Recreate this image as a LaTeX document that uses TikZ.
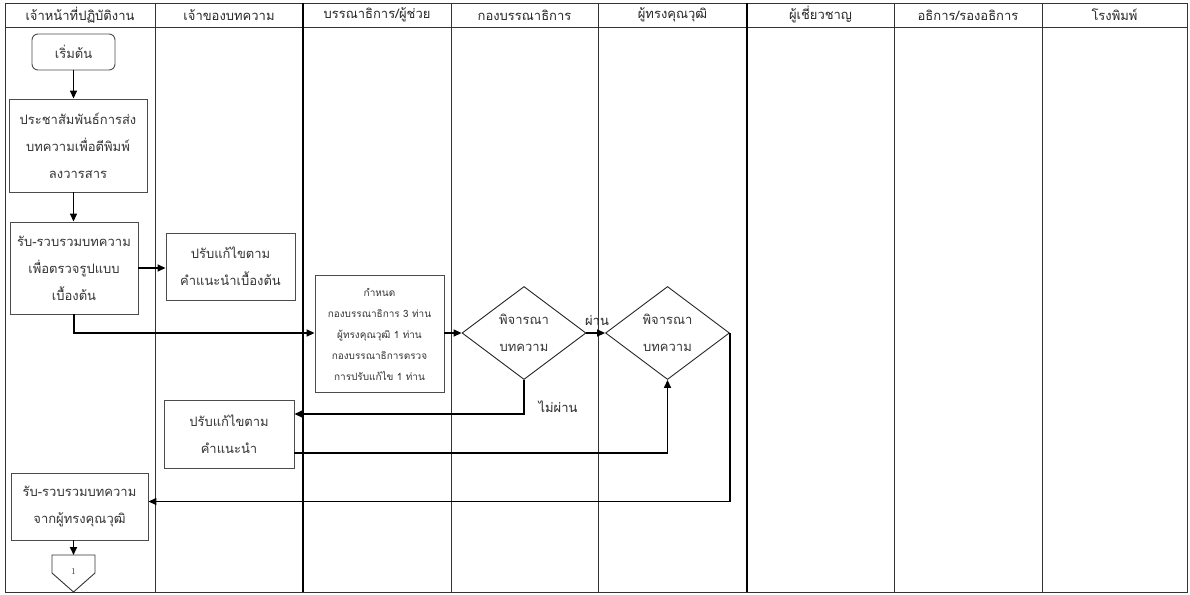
\documentclass[tikz,border=0pt]{standalone}
\usepackage{fontspec}
\newfontfamily\thai[Script=Thai]{Loma}
\usetikzlibrary{shapes.geometric,arrows.meta,calc}
\begin{document}
\begin{tikzpicture}[x=1pt,y=-1pt,
  hdr/.style={font=\thai\fontsize{13}{15}\selectfont, text=black!85, anchor=center},
  box/.style={draw=black!70, line width=0.9pt, align=center, inner sep=0pt,
    font=\thai\fontsize{13}{27}\selectfont, text=black!80},
  smallbox/.style={box, font=\thai\fontsize{10}{21}\selectfont},
  dia/.style={draw=black!85, line width=0.9pt, diamond, inner sep=0pt, align=center,
    minimum width=124pt, minimum height=93pt, font=\thai\fontsize{13}{27}\selectfont, text=black!80},
  conn/.style={line width=1.6pt, draw=black, -{Triangle[length=8pt,width=7pt]}},
  lane/.style={line width=0.8pt, draw=black!80},
  lanethick/.style={line width=1.5pt, draw=black},
  lbl/.style={font=\thai\fontsize{13}{15}\selectfont, text=black!85}
]
\useasboundingbox (0,0) rectangle (1190,594);
% table
\draw[lane] (5,3) rectangle (1187,592);
\draw[lane] (5,27) -- (1187,27);
\foreach \x in {155,451,598,894,1042} \draw[lane] (\x,3) -- (\x,592);
\foreach \x in {303,747} \draw[lanethick] (\x,3) -- (\x,592);
% headers
\node[hdr] (h1) at (80,15) {เจ้าหน้าที่ปฏิบัติงาน};
\node[hdr] (h2) at (229,15) {เจ้าของบทความ};
\node[hdr] (h3) at (377,15) {บรรณาธิการ/ผู้ช่วย};
\node[hdr] (h4) at (524.5,15) {กองบรรณาธิการ};
\node[hdr] (h5) at (672.5,15) {ผู้ทรงคุณวุฒิ};
\node[hdr] (h6) at (820.5,15) {ผู้เชี่ยวชาญ};
\node[hdr] (h7) at (968,15) {อธิการ/รองอธิการ};
\node[hdr] (h8) at (1114.5,15) {โรงพิมพ์};
% nodes
\node[box, rounded corners=6pt, minimum width=83pt, minimum height=36pt] (start) at (73.5,52) {เริ่มต้น};
\node[box, minimum width=138pt, minimum height=93pt] (pr) at (78,145.5) {ประชาสัมพันธ์การส่ง\\บทความเพื่อตีพิมพ์\\ลงวารสาร};
\node[box, minimum width=128pt, minimum height=92pt] (recv) at (74,268) {รับ-รวบรวมบทความ\\เพื่อตรวจรูปแบบ\\เบื้องต้น};
\node[box, minimum width=129pt, minimum height=67pt] (fix1) at (230.5,266.5) {ปรับแก้ไขตาม\\คำแนะนำเบื้องต้น};
\node[smallbox, minimum width=129pt, minimum height=117pt] (assign) at (379.5,334) {กำหนด\\กองบรรณาธิการ 3 ท่าน\\ผู้ทรงคุณวุฒิ 1 ท่าน\\กองบรรณาธิการตรวจ\\การปรับแก้ไข 1 ท่าน};
\node[dia] (d1) at (524,333) {พิจารณา\\บทความ};
\node[dia] (d2) at (667.5,333) {พิจารณา\\บทความ};
\node[box, minimum width=130pt, minimum height=68pt] (fix2) at (229,434) {ปรับแก้ไขตาม\\คำแนะนำ};
\node[box, minimum width=137pt, minimum height=67pt] (recv2) at (79.5,506.5) {รับ-รวบรวมบทความ\\จากผู้ทรงคุณวุฒิ};
% off-page connector
\draw[draw=black!80, line width=0.9pt] (52,555) -- (95,555) -- (95,573) -- (73.5,592) -- (52,573) -- cycle;
\coordinate (pgtop) at (73.5,555);
\node[font=\fontsize{9}{11}\selectfont, text=black!80] (pg1) at (73.5,571) {1};
% labels
\node[lbl] (pass) at (597,320) {ผ่าน};
\node[lbl] (fail) at (558,407) {ไม่ผ่าน};
% connectors
\draw[conn] (start.south) -- (start.south |- pr.north);
\draw[conn] (start.south |- pr.south) -- (start.south |- recv.north);
\draw[conn] (recv.east) -- (recv.east -| fix1.west);
\draw[conn] (recv.south) |- (assign.west |- d1.west);
\draw[conn] (assign.east |- d1.west) -- (d1.west);
\draw[conn] (d1.east) -- (d2.west);
\draw[conn] (d1.south) |- ([yshift=20pt]fix2.east);
\draw[conn] ([yshift=-19pt]fix2.east) -| (d2.south);
\draw[conn] (d2.east) |- ([yshift=5pt]recv2.east);
\draw[conn] (pgtop |- recv2.south) -- (pgtop);
\end{tikzpicture}
\end{document}
